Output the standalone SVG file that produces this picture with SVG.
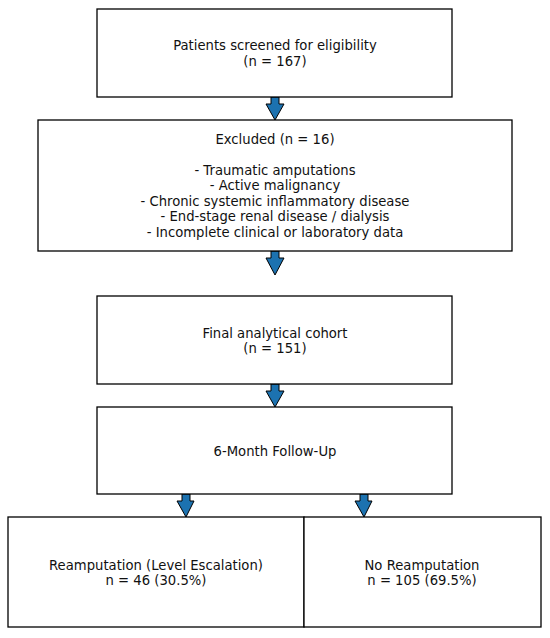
<svg xmlns="http://www.w3.org/2000/svg" width="550" height="638" viewBox="0 0 550 638">
<style>
.box{fill:#fff;stroke:#000;stroke-width:1.3}
.t{font-family:"DejaVu Sans",sans-serif;font-size:13.2px;fill:#111;text-anchor:middle}
.arr{fill:#1c72b0;stroke:#000;stroke-width:1;stroke-linejoin:miter}
</style>
<rect width="550" height="638" fill="#fff"/>
<g id="connectors">
<path class="arr" d="M271,97 L279,97 L279,104 L284,104 L275,120 L266,104 L271,104 Z"/>
<path class="arr" d="M271,251 L279,251 L279,258 L284,258 L275,275 L266,258 L271,258 Z"/>
<path class="arr" d="M271,384 L279,384 L279,391 L284,391 L275,407 L266,391 L271,391 Z"/>
<path class="arr" d="M182,494 L190,494 L190,501 L194,501 L186,517 L177,501 L182,501 Z"/>
<path class="arr" d="M360,494 L368,494 L368,501 L372,501 L364,517 L355,501 L360,501 Z"/>
</g>
<g id="screened">
<rect class="box" x="97" y="9" width="355" height="88"/>
<text class="t" x="275" y="50">Patients screened for eligibility</text>
<text class="t" x="275" y="65.5">(n = 167)</text>
</g>
<g id="excluded">
<rect class="box" x="38" y="120" width="474" height="131"/>
<text class="t" x="275" y="143.5">Excluded (n = 16)</text>
<text class="t" x="275" y="174.5">- Traumatic amputations</text>
<text class="t" x="275" y="190">- Active malignancy</text>
<text class="t" x="275" y="205.5">- Chronic systemic inflammatory disease</text>
<text class="t" x="275" y="221">- End-stage renal disease / dialysis</text>
<text class="t" x="275" y="236.5">- Incomplete clinical or laboratory data</text>
</g>
<g id="cohort">
<rect class="box" x="97" y="296" width="355" height="88"/>
<text class="t" x="275" y="337.5">Final analytical cohort</text>
<text class="t" x="275" y="353">(n = 151)</text>
</g>
<g id="followup">
<rect class="box" x="97" y="407" width="355" height="87"/>
<text class="t" x="275" y="455.5">6-Month Follow-Up</text>
</g>
<g id="reamputation">
<rect class="box" x="8" y="517" width="296" height="110"/>
<text class="t" x="156" y="569.5">Reamputation (Level Escalation)</text>
<text class="t" x="156" y="585">n = 46 (30.5%)</text>
</g>
<g id="no-reamputation">
<rect class="box" x="304" y="517" width="237" height="110"/>
<text class="t" x="422" y="569.5">No Reamputation</text>
<text class="t" x="422" y="585">n = 105 (69.5%)</text>
</g>
</svg>
